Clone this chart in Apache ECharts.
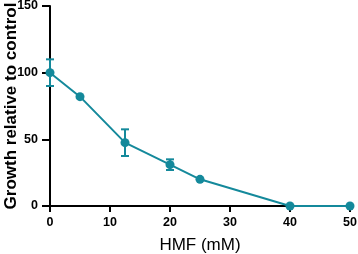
<!DOCTYPE html>
<html><head><meta charset="utf-8">
<script src="https://cdn.jsdelivr.net/npm/echarts@6/dist/echarts.min.js"></script>
<style>html,body{margin:0;padding:0;background:#fff}#c{width:358px;height:254px}</style>
</head><body><div id="c"></div>
<script>
const xValues = [0, 5, 12.5, 20, 25, 40, 50];
const yValues = [100, 82, 47.5, 31, 20, 0, 0];
const yErrors = [10, 0, 10, 4, 0, 0, 0];
const xTicks = [0, 10, 20, 30, 40, 50];
const yTicks = [0, 50, 100, 150];
const color = '#14899b';
const FONT = '"Liberation Sans", Arial, sans-serif';

const chart = echarts.init(document.getElementById('c'));
const pts = xValues.map((x, i) => [x, yValues[i]]);
const errData = xValues.map((x, i) => [x, yValues[i] - yErrors[i], yValues[i] + yErrors[i]]);
chart.setOption({
  animation: false,
  grid: {left: 50, right: 8, top: 6, bottom: 48, containLabel: false, outerBoundsMode: 'none'},
  xAxis: {
    type: 'value', min: xTicks[0], max: xTicks[xTicks.length-1], interval: 10,
    name: 'HMF (mM)', nameLocation: 'middle', nameGap: 31, nameMoveOverlap: false,
    nameTextStyle: {fontFamily: FONT, fontSize: 17, color: '#000'},
    axisLine: {lineStyle: {color: '#000', width: 2}},
    axisTick: {show: true, length: 6, lineStyle: {color: '#000', width: 2}},
    axisLabel: {fontFamily: FONT, fontWeight: 'bold', fontSize: 12.5, color: '#000', margin: 10},
    splitLine: {show: false}
  },
  yAxis: {
    type: 'value', min: yTicks[0], max: yTicks[yTicks.length-1], interval: 50,
    name: 'Growth relative to control', nameLocation: 'middle', nameGap: 30, nameMoveOverlap: false,
    nameTextStyle: {fontFamily: FONT, fontWeight: 'bold', fontSize: 17, color: '#000'},
    axisLine: {show: true, lineStyle: {color: '#000', width: 2}},
    axisTick: {show: true, length: 8, lineStyle: {color: '#000', width: 2}},
    axisLabel: {fontFamily: FONT, fontWeight: 'bold', fontSize: 12.5, color: '#000', margin: 12},
    splitLine: {show: false}
  },
  series: [
    {
      type: 'line', data: pts, symbol: 'circle', symbolSize: 9,
      lineStyle: {color: color, width: 2}, itemStyle: {color: color}, z: 3
    },
    {
      type: 'custom', data: errData, z: 4,
      renderItem: function (params, api) {
        const x = api.value(0), lo = api.value(1), hi = api.value(2);
        if (hi - lo <= 0) return null;
        const pLo = api.coord([x, lo]), pHi = api.coord([x, hi]);
        const w = 4;
        const st = {stroke: color, lineWidth: 2};
        return {type: 'group', children: [
          {type: 'line', shape: {x1: pLo[0], y1: pLo[1], x2: pHi[0], y2: pHi[1]}, style: st},
          {type: 'line', shape: {x1: pLo[0]-w, y1: pLo[1], x2: pLo[0]+w, y2: pLo[1]}, style: st},
          {type: 'line', shape: {x1: pHi[0]-w, y1: pHi[1], x2: pHi[0]+w, y2: pHi[1]}, style: st}
        ]};
      }
    }
  ]
});
</script></body></html>
